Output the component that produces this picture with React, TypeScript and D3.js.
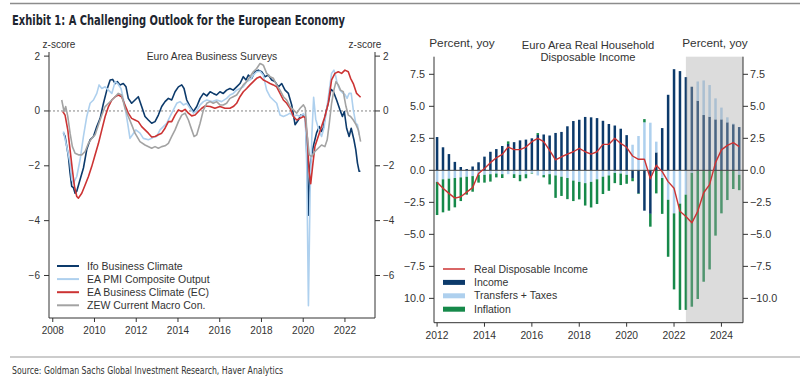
import React from 'react';
import * as d3 from 'd3';

// ---------- Left panel: Euro Area Business Surveys (z-scores) ----------
const ifoDates = [2008.51,2008.59,2008.75,2008.83,2008.91,2008.99,2009.07,2009.15,2009.31,2009.47,2009.63,2009.79,2009.95,2010.11,2010.27,2010.43,2010.59,2010.75,2010.87,2010.99,2011.10,2011.22,2011.38,2011.51,2011.62,2011.78,2011.94,2012.10,2012.26,2012.42,2012.58,2012.74,2012.90,2013.06,2013.22,2013.38,2013.54,2013.70,2013.86,2014.02,2014.18,2014.29,2014.42,2014.58,2014.74,2014.90,2015.06,2015.22,2015.38,2015.54,2015.69,2015.85,2016.01,2016.17,2016.33,2016.49,2016.65,2016.81,2016.97,2017.13,2017.26,2017.37,2017.53,2017.69,2017.85,2018.01,2018.17,2018.33,2018.49,2018.65,2018.81,2018.97,2019.13,2019.29,2019.45,2019.61,2019.77,2019.88,2020.01,2020.10,2020.18,2020.25,2020.32,2020.48,2020.64,2020.77,2020.88,2020.96,2021.10,2021.20,2021.33,2021.44,2021.60,2021.76,2021.88,2021.97,2022.08,2022.20,2022.30,2022.43,2022.52,2022.60,2022.68,2022.74];
const ifoValues = [-0.8,-0.93,-1.66,-2.27,-2.75,-2.8,-3.0,-2.93,-2.5,-2.08,-1.4,-1.05,-0.93,-0.57,-0.27,0.28,0.76,1.13,1.15,1.0,1.07,0.95,1.0,0.88,0.46,0.28,0.4,0.52,0.16,-0.2,-0.33,-0.45,-0.39,-0.15,0.16,0.34,0.46,0.4,0.7,0.88,0.95,0.82,0.4,0.16,-0.02,0.16,0.46,0.64,0.55,0.7,0.64,0.58,0.7,0.64,0.76,0.82,0.76,0.88,1.0,1.25,1.13,1.31,1.19,1.43,1.49,1.43,1.25,1.31,1.13,1.07,0.88,1.0,0.76,0.64,0.22,-0.5,-0.33,-0.15,-0.15,-0.2,-1.7,-3.8,-2.0,-1.3,-0.8,-0.57,-0.75,-0.63,0.0,0.3,0.79,0.72,0.4,0.04,-0.2,-0.02,-0.63,-0.93,-0.63,-1.05,-1.42,-1.9,-2.2,-2.2];

const pmiDates = [2008.51,2008.67,2008.83,2008.91,2008.99,2009.15,2009.31,2009.47,2009.63,2009.79,2009.95,2010.11,2010.22,2010.35,2010.51,2010.67,2010.83,2010.99,2011.11,2011.27,2011.43,2011.59,2011.70,2011.82,2011.98,2012.18,2012.34,2012.58,2012.74,2012.82,2012.98,2013.14,2013.30,2013.46,2013.62,2013.78,2013.94,2014.10,2014.26,2014.42,2014.58,2014.74,2014.90,2015.06,2015.22,2015.38,2015.62,2015.85,2016.09,2016.33,2016.49,2016.65,2016.81,2016.97,2017.13,2017.29,2017.45,2017.61,2017.77,2017.93,2018.09,2018.25,2018.41,2018.57,2018.73,2018.89,2019.05,2019.21,2019.37,2019.53,2019.69,2019.85,2020.01,2020.10,2020.17,2020.25,2020.33,2020.42,2020.50,2020.60,2020.75,2020.88,2021.00,2021.12,2021.25,2021.36,2021.47,2021.55,2021.63,2021.76,2021.92,2022.00,2022.10,2022.20,2022.30,2022.40,2022.52,2022.60,2022.68];
const pmiValues = [-0.75,-1.3,-1.9,-2.5,-2.63,-2.39,-1.78,-0.93,-0.2,0.28,0.4,0.64,0.95,0.82,0.88,0.76,0.64,1.07,1.0,0.82,0.28,-0.45,-1.0,-0.87,-0.69,-0.81,-1.0,-1.05,-1.0,-0.95,-0.93,-0.69,-0.57,-0.45,-0.2,0.04,0.28,0.34,0.22,0.28,0.1,-0.08,0.0,0.22,0.34,0.4,0.34,0.4,0.34,0.46,0.58,0.64,0.76,0.82,0.88,1.07,1.13,1.31,1.43,1.45,1.3,0.76,0.52,0.4,0.28,-0.15,-0.2,-0.15,-0.08,-0.2,-0.15,-0.2,-0.1,-0.25,-2.0,-7.1,-3.0,-0.8,0.5,-0.3,-0.7,-0.93,-0.6,0.04,0.76,1.37,1.49,1.3,1.0,0.76,0.64,0.6,0.46,0.64,0.64,0.04,-0.45,-0.5,-0.87];

const ecDates = [2008.48,2008.59,2008.72,2008.83,2008.94,2009.04,2009.15,2009.23,2009.39,2009.55,2009.71,2009.87,2010.03,2010.19,2010.35,2010.51,2010.67,2010.83,2010.99,2011.14,2011.30,2011.46,2011.62,2011.78,2011.94,2012.10,2012.26,2012.42,2012.58,2012.74,2012.90,2013.06,2013.22,2013.38,2013.54,2013.70,2013.86,2014.02,2014.18,2014.34,2014.50,2014.66,2014.82,2014.98,2015.14,2015.30,2015.54,2015.77,2016.01,2016.25,2016.49,2016.65,2016.81,2016.97,2017.13,2017.29,2017.45,2017.61,2017.77,2017.93,2018.09,2018.25,2018.41,2018.57,2018.73,2018.89,2019.05,2019.21,2019.37,2019.53,2019.69,2019.85,2020.01,2020.10,2020.20,2020.28,2020.36,2020.45,2020.56,2020.72,2020.88,2021.04,2021.20,2021.36,2021.52,2021.68,2021.84,2022.00,2022.16,2022.27,2022.40,2022.56,2022.64,2022.75];
const ecValues = [-0.02,-0.15,-0.69,-1.42,-2.15,-2.75,-3.12,-3.18,-3.0,-2.7,-2.39,-2.02,-1.6,-1.18,-0.69,-0.2,0.16,0.4,0.52,0.58,0.52,0.22,-0.08,-0.27,-0.33,-0.39,-0.57,-0.69,-0.81,-0.95,-0.93,-0.87,-0.81,-0.63,-0.39,-0.39,-0.15,0.04,-0.02,0.06,-0.08,-0.18,-0.15,-0.02,0.1,0.18,0.16,0.1,0.16,0.1,0.1,0.16,0.28,0.52,0.7,0.82,0.95,1.07,1.19,1.25,1.13,1.07,1.0,0.95,0.88,0.64,0.4,0.28,0.1,-0.2,-0.33,-0.27,-0.2,-0.25,-1.0,-2.2,-2.65,-2.02,-1.3,-0.93,-0.57,-0.2,0.28,1.13,1.37,1.43,1.37,1.49,1.43,1.19,1.0,0.64,0.58,0.5];

const zewDates = [2008.43,2008.54,2008.62,2008.72,2008.83,2008.94,2009.07,2009.23,2009.39,2009.55,2009.71,2009.87,2010.03,2010.19,2010.35,2010.51,2010.67,2010.83,2010.99,2011.14,2011.30,2011.46,2011.62,2011.78,2011.94,2012.18,2012.42,2012.74,2012.90,2013.06,2013.22,2013.38,2013.54,2013.70,2013.86,2014.02,2014.18,2014.34,2014.50,2014.66,2014.77,2014.90,2015.06,2015.22,2015.38,2015.54,2015.69,2015.85,2016.01,2016.17,2016.33,2016.49,2016.65,2016.81,2016.97,2017.13,2017.29,2017.45,2017.61,2017.77,2017.93,2018.01,2018.09,2018.25,2018.41,2018.57,2018.73,2018.89,2019.05,2019.21,2019.37,2019.53,2019.69,2019.85,2020.01,2020.10,2020.18,2020.29,2020.40,2020.56,2020.72,2020.88,2021.04,2021.15,2021.25,2021.36,2021.47,2021.57,2021.68,2021.79,2021.92,2022.05,2022.16,2022.27,2022.40,2022.53,2022.64,2022.75];
const zewValues = [0.4,-0.02,0.16,-0.2,-0.81,-1.3,-1.54,-1.6,-1.6,-1.48,-1.18,-1.0,-0.87,-0.5,-0.15,0.16,0.28,0.4,0.52,0.64,0.58,0.1,-0.2,-0.5,-0.81,-1.12,-1.24,-1.36,-1.3,-1.36,-1.3,-1.27,-1.18,-0.93,-0.69,-0.39,-0.15,-0.08,-0.33,-0.69,-0.93,-0.87,-0.45,0.04,0.28,0.34,0.28,0.34,0.22,0.22,0.28,0.46,0.52,0.58,0.76,0.95,1.07,1.25,1.43,1.55,1.73,1.7,1.67,1.37,1.25,1.19,0.95,0.76,0.52,0.4,0.16,0.04,-0.08,0.1,0.22,0.1,-0.81,-1.6,-1.66,-1.48,-1.36,-1.24,-1.3,-1.05,-0.45,0.28,0.76,1.07,0.95,0.76,0.7,0.16,-0.15,-0.2,-0.33,-0.5,-0.69,-1.12];

const leftSeriesNames = ['Ifo Business Climate', 'EA PMI Composite Output', 'EA Business Climate (EC)', 'ZEW Current Macro Con.'];
const leftYTicks = [-6, -4, -2, 0, 2];
const leftXTicks = [2008, 2010, 2012, 2014, 2016, 2018, 2020, 2022];

// ---------- Right panel: Euro Area Real Household Disposable Income ----------
const quarters = ['2012Q1','2012Q2','2012Q3','2012Q4','2013Q1','2013Q2','2013Q3','2013Q4','2014Q1','2014Q2','2014Q3','2014Q4','2015Q1','2015Q2','2015Q3','2015Q4','2016Q1','2016Q2','2016Q3','2016Q4','2017Q1','2017Q2','2017Q3','2017Q4','2018Q1','2018Q2','2018Q3','2018Q4','2019Q1','2019Q2','2019Q3','2019Q4','2020Q1','2020Q2','2020Q3','2020Q4','2021Q1','2021Q2','2021Q3','2021Q4','2022Q1','2022Q2','2022Q3','2022Q4','2023Q1','2023Q2','2023Q3','2023Q4','2024Q1','2024Q2','2024Q3','2024Q4'];
const incomeValues = [2.6,1.8,1.27,0.66,0.26,0.1,0.3,0.63,1.07,1.45,1.66,1.9,2.06,2.2,2.34,2.4,2.5,2.76,2.8,2.72,2.92,3.0,3.44,3.85,3.95,4.17,4.14,4.08,3.87,3.62,3.5,3.25,2.75,-0.6,-1.8,-3.15,-3.4,1.4,3.3,5.9,7.9,7.75,7.28,6.53,5.44,4.32,4.19,3.98,3.98,3.75,3.6,3.38];
const transfersValues = [-0.9,-0.7,-0.65,-0.6,-0.55,-0.5,-0.45,-0.35,-0.35,-0.3,-0.25,-0.3,-0.3,-0.3,-0.35,-0.3,-0.2,-0.4,-0.37,-0.3,-0.4,-0.5,-0.6,-0.8,-0.9,-1.0,-0.9,-0.7,-0.5,-0.4,-0.2,-0.25,-0.35,2.0,2.68,3.75,3.72,0.84,-0.6,-2.3,-3.36,-2.6,-1.9,-0.2,1.5,2.7,2.47,1.64,0.92,0.39,0.05,-0.35];
const inflationValues = [-2.59,-2.58,-2.5,-2.29,-1.85,-1.4,-1.22,-0.61,-0.61,-0.58,-0.3,-0.3,0.2,-0.3,-0.5,-0.32,-0.05,0.15,-0.18,-0.8,-1.75,-1.5,-1.65,-1.6,-1.37,-1.75,-2.0,-1.93,-1.35,-1.2,-0.8,-0.9,-0.7,-0.25,-0.05,0.25,-1.0,-1.8,-2.8,-4.45,-5.94,-8.3,-9.0,-10.45,-10.05,-8.7,-7.74,-5.1,-3.36,-2.32,-1.46,-1.2];
const realIncomeValues = [-0.94,-1.4,-1.8,-2.17,-2.06,-1.7,-1.35,-0.25,0.15,0.6,0.98,1.25,1.82,1.62,1.62,1.82,2.24,2.5,2.24,1.56,0.82,1.06,1.27,1.45,1.72,1.45,1.27,1.45,2.03,2.03,2.5,2.1,1.8,1.12,0.86,0.86,-0.66,0.4,-0.1,-0.88,-1.4,-3.2,-3.6,-4.1,-3.2,-1.75,-1.12,0.6,1.6,1.95,2.16,1.85];
const rightYTicks = [-10, -7.5, -5, -2.5, 0, 2.5, 5, 7.5];
const rightXTicks = [2012, 2014, 2016, 2018, 2020, 2022, 2024];
const forecastStart = 2022.5;

const FONT = 'Liberation Sans, Arial, Helvetica, sans-serif';
const NARROW = 'Liberation Sans Narrow, Arial Narrow, DejaVu Sans Condensed, sans-serif';
const AX = '#333';
const C_NAVY = '#0c3a6b';
const C_LIGHT = '#aed0ee';
const C_RED = '#cc3333';
const C_GREY = '#a3a3a3';
const C_GREEN = '#16894a';

function qToYear(q: string) {
  const y = +q.slice(0, 4);
  const n = +q.slice(5);
  return y + (n - 1) * 0.25;
}

export default function App() {
  // Left scales
  const xL = d3.scaleLinear().domain([2007.82, 2023.44]).range([49, 375]);
  const yL = d3.scaleLinear().domain([-7.55, 2.15]).range([318, 52]);
  const lineL = d3.line<[number, number]>().x(d => xL(d[0])).y(d => yL(d[1]));
  const zip = (a: number[], b: number[]) => a.map((v, i) => [v, b[i]] as [number, number]);
  const leftSeries = [
    { name: leftSeriesNames[0], color: C_NAVY, pts: zip(ifoDates, ifoValues) },
    { name: leftSeriesNames[1], color: C_LIGHT, pts: zip(pmiDates, pmiValues) },
    { name: leftSeriesNames[2], color: C_RED, pts: zip(ecDates, ecValues) },
    { name: leftSeriesNames[3], color: C_GREY, pts: zip(zewDates, zewValues) },
  ];

  // Right scales
  const xR = d3.scaleLinear().domain([2011.87, 2024.91]).range([434, 743]);
  const yR = d3.scaleLinear().domain([-11.9, 8.875]).range([322.7, 56.7]);
  const rows = quarters.map((q, i) => ({
    t: qToYear(q),
    income: incomeValues[i],
    transfers: transfersValues[i],
    inflation: inflationValues[i],
  }));
  const keys = ['income', 'transfers', 'inflation'];
  const colors: Record<string, string> = { income: C_NAVY, transfers: C_LIGHT, inflation: C_GREEN };
  const stacked = d3.stack<any>().keys(keys).offset(d3.stackOffsetDiverging)(rows);
  const barW = 2.5;
  const lineR = d3.line<number>().x((_, i) => xR(rows[i].t)).y(d => yR(d));
  const fmtR = d3.format('.1f');
  const fmtL = d3.format('d');

  const legendR = [
    { label: 'Real Disposable Income', type: 'line', color: C_RED },
    { label: 'Income', type: 'rect', color: C_NAVY },
    { label: 'Transfers + Taxes', type: 'rect', color: C_LIGHT },
    { label: 'Inflation', type: 'rect', color: C_GREEN },
  ];

  return (
    <svg width={810} height={379} style={{ position: 'absolute', left: 0, top: 0, background: '#fff' }} fontFamily={FONT}>
      <defs>
        <clipPath id="rightClip"><rect x={404} y={0} width={406} height={379} /></clipPath>
        <clipPath id="leftPlot"><rect x={49} y={40} width={326} height={278} /></clipPath>
      </defs>
      {/* Header */}
      <line x1={10} x2={800} y1={3.5} y2={3.5} stroke="#8c8c8c" strokeWidth={1.5} />
      <text x={12} y={24.5} fontFamily={NARROW} fontWeight="bold" fontSize={14.5} fill="#1e2630" textLength={333} lengthAdjust="spacingAndGlyphs">Exhibit 1: A Challenging Outlook for the European Economy</text>

      {/* ---------- LEFT PANEL ---------- */}
      <g>
        <line x1={49} x2={375} y1={yL(0)} y2={yL(0)} stroke="#777" strokeWidth={0.9} strokeDasharray="2,2" />
        <g clipPath="url(#leftPlot)" fill="none">
          {leftSeries.map(s => (
            <path key={s.name} d={lineL(s.pts) || ''} stroke={s.color} strokeWidth={1.6} strokeLinejoin="round" />
          ))}
        </g>
        {/* axes */}
        <line x1={49} x2={49} y1={52} y2={318} stroke={AX} strokeWidth={1} />
        <line x1={375} x2={375} y1={52} y2={318} stroke={AX} strokeWidth={1} />
        <line x1={49} x2={375} y1={318} y2={318} stroke={AX} strokeWidth={1} />
        {leftYTicks.map(t => (
          <g key={'ly' + t}>
            <line x1={44} x2={49} y1={yL(t)} y2={yL(t)} stroke={AX} />
            <line x1={375} x2={380} y1={yL(t)} y2={yL(t)} stroke={AX} />
            <text x={40} y={yL(t)} dy="0.35em" textAnchor="end" fontSize={10} fill={AX}>{fmtL(t)}</text>
            <text x={383} y={yL(t)} dy="0.35em" textAnchor="start" fontSize={10} fill={AX}>{fmtL(t)}</text>
          </g>
        ))}
        {leftXTicks.map(t => (
          <g key={'lx' + t}>
            <line x1={xL(t)} x2={xL(t)} y1={318} y2={322} stroke={AX} />
            <text x={xL(t)} y={333.5} textAnchor="middle" fontSize={10} fill={AX}>{t}</text>
          </g>
        ))}
        <text x={59} y={48} textAnchor="middle" fontSize={10} fill={AX}>z-score</text>
        <text x={365} y={48} textAnchor="middle" fontSize={10} fill={AX}>z-score</text>
        <text x={212} y={60} textAnchor="middle" fontSize={10.3} fill={AX}>Euro Area Business Surveys</text>
        {leftSeries.map((s, i) => (
          <g key={'lg' + i}>
            <line x1={57} x2={79} y1={266 + i * 13.1} y2={266 + i * 13.1} stroke={s.color} strokeWidth={2} />
            <text x={87} y={266 + i * 13.1} dy="0.35em" fontSize={10.5} fill={AX}>{s.name}</text>
          </g>
        ))}
      </g>

      {/* ---------- RIGHT PANEL ---------- */}
      <g clipPath="url(#rightClip)">
        {stacked.map(series => (
          <g key={series.key} fill={colors[series.key]}>
            {series.map((d, i) => {
              const a = yR(d[0]);
              const b = yR(d[1]);
              const h = Math.abs(a - b);
              if (h < 0.01) return null;
              return <rect key={i} x={xR(rows[i].t) - barW / 2} y={Math.min(a, b)} width={barW} height={h} />;
            })}
          </g>
        ))}
        <rect x={xR(forecastStart)} y={56.7} width={743 - xR(forecastStart)} height={322.7 - 56.7} fill="#a8a8a8" opacity={0.4} />
        <line x1={434} x2={743} y1={yR(0)} y2={yR(0)} stroke="#444" strokeWidth={1} />
        <path d={lineR(realIncomeValues) || ''} fill="none" stroke={C_RED} strokeWidth={1.4} strokeLinejoin="round" />
        {/* axes */}
        <line x1={434} x2={434} y1={56.7} y2={322.7} stroke={AX} />
        <line x1={743} x2={743} y1={56.7} y2={322.7} stroke={AX} />
        <line x1={434} x2={743} y1={322.7} y2={322.7} stroke={AX} />
        {rightYTicks.map(t => (
          <g key={'ry' + t}>
            <line x1={429} x2={434} y1={yR(t)} y2={yR(t)} stroke={AX} />
            <line x1={743} x2={748} y1={yR(t)} y2={yR(t)} stroke={AX} />
            <text x={425} y={yR(t)} dy="0.35em" textAnchor="end" fontSize={10.8} fill={AX}>{fmtR(t)}</text>
            <text x={750} y={yR(t)} dy="0.35em" textAnchor="start" fontSize={10.8} fill={AX}>{fmtR(t)}</text>
          </g>
        ))}
        {rightXTicks.map(t => (
          <g key={'rx' + t}>
            <line x1={xR(t)} x2={xR(t)} y1={322.7} y2={326.7} stroke={AX} />
            <text x={xR(t)} y={339} textAnchor="middle" fontSize={10.3} fill={AX}>{t}</text>
          </g>
        ))}
        <text x={462} y={47} textAnchor="middle" fontSize={11.8} fill={AX}>Percent, yoy</text>
        <text x={715} y={47} textAnchor="middle" fontSize={11.8} fill={AX}>Percent, yoy</text>
        <text x={588} y={48.5} textAnchor="middle" fontSize={11.2} fill={AX}>Euro Area Real Household</text>
        <text x={588} y={61.2} textAnchor="middle" fontSize={11.2} fill={AX}>Disposable Income</text>
        {legendR.map((l, i) => {
          const yy = 269 + i * 13.4;
          return (
            <g key={'rl' + i}>
              {l.type === 'line'
                ? <line x1={443} x2={465} y1={yy} y2={yy} stroke={l.color} strokeWidth={1.5} />
                : <rect x={443} y={yy - 2.5} width={22} height={5} fill={l.color} />}
              <text x={474} y={yy} dy="0.35em" fontSize={10.5} fill={AX}>{l.label}</text>
            </g>
          );
        })}
      </g>

      {/* Footer */}
      <line x1={10} x2={800} y1={357} y2={357} stroke="#9a9a9a" strokeWidth={1.2} />
      <text x={12} y={373.5} fontFamily={NARROW} fontSize={10} fill="#333" textLength={271} lengthAdjust="spacingAndGlyphs">Source: Goldman Sachs Global Investment Research, Haver Analytics</text>
    </svg>
  );
}
